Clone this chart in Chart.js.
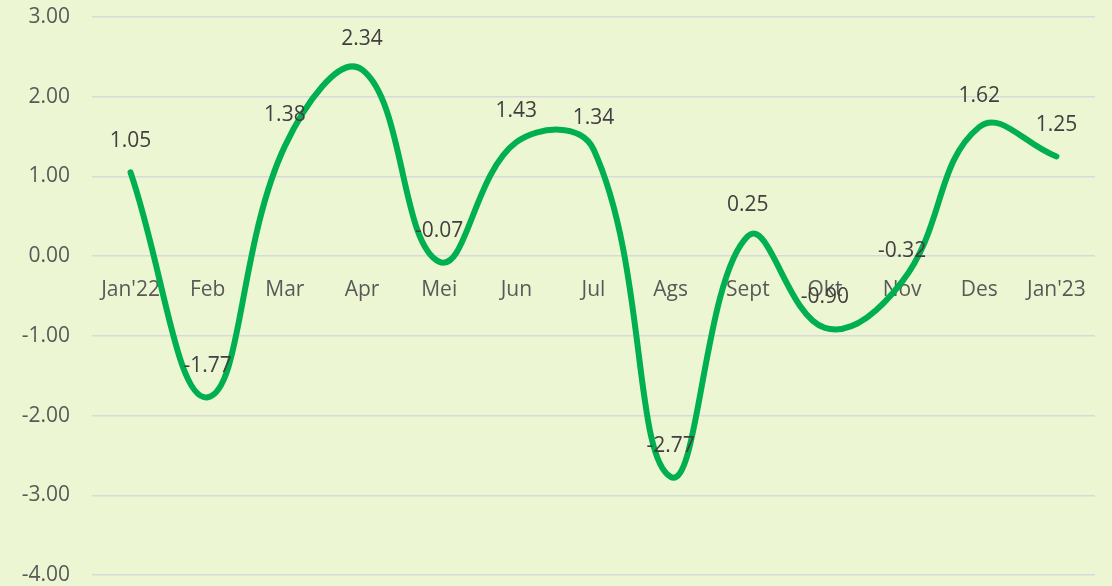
<!DOCTYPE html>
<html>
<head>
<meta charset="utf-8">
<script src="https://cdn.jsdelivr.net/npm/chart.js@4"></script>
<style>
  html, body { margin: 0; padding: 0; background: #EDF6D2; }
  #wrap { width: 1112px; height: 586px; }
</style>
</head>
<body>
<div id="wrap"><canvas id="chart"></canvas></div>
<script>
const months = ["Jan'22", 'Feb', 'Mar', 'Apr', 'Mei', 'Jun', 'Jul', 'Ags', 'Sept', 'Okt', 'Nov', 'Des', "Jan'23"];
const inflation = [1.05, -1.77, 1.38, 2.34, -0.07, 1.43, 1.34, -2.77, 0.25, -0.90, -0.32, 1.62, 1.25];
const yTicks = [3, 2, 1, 0, -1, -2, -3, -4];

const fontFamily = "'Open Sans', 'Noto Sans', sans-serif";

// etiquetas de datos sobre cada punto
const pointLabels = {
  id: 'pointLabels',
  afterDatasetsDraw(chart) {
    const ctx = chart.ctx;
    const meta = chart.getDatasetMeta(0);
    ctx.save();
    ctx.font = `21px ${fontFamily}`;
    ctx.fillStyle = '#404040';
    ctx.textAlign = 'center';
    ctx.textBaseline = 'middle';
    meta.data.forEach((pt, i) => {
      ctx.fillText(inflation[i].toFixed(2), pt.x, pt.y - 31);
    });
    ctx.restore();
  }
};

const data = {
  labels: months,
  datasets: [{
    data: inflation,
    borderColor: '#00B050',
    borderWidth: 6,
    borderCapStyle: 'round',
    tension: 0.42,
    pointRadius: 0,
    fill: false
  }]
};

const config = {
  type: 'line',
  data: data,
  options: {
    responsive: true,
    maintainAspectRatio: false,
    animation: false,
    layout: { padding: { top: 17, right: 17, bottom: 11, left: 0 } },
    plugins: { legend: { display: false }, tooltip: { enabled: false } },
    scales: {
      x: {
        position: { y: 0 },
        offset: true,
        grid: { display: false, drawTicks: false },
        border: { display: false },
        ticks: {
          color: '#595959',
          font: { family: fontFamily, size: 21 },
          padding: 21,
          maxRotation: 0,
          autoSkip: false
        }
      },
      y: {
        min: -4,
        max: 3,
        afterBuildTicks: (s) => { s.ticks = yTicks.map(v => ({ value: v })); },
        afterFit: (s) => { s.width = 92; s.paddingTop = 0; s.paddingBottom = 0; },
        grid: { color: '#D9D9D9', lineWidth: 1.5, drawTicks: false },
        border: { display: false },
        ticks: {
          color: '#595959',
          font: { family: fontFamily, size: 21 },
          padding: 22,
          callback: (v) => Number(v).toFixed(2)
        }
      }
    }
  },
  plugins: [pointLabels]
};

new Chart(document.querySelector('#chart'), config);
</script>
</body>
</html>
